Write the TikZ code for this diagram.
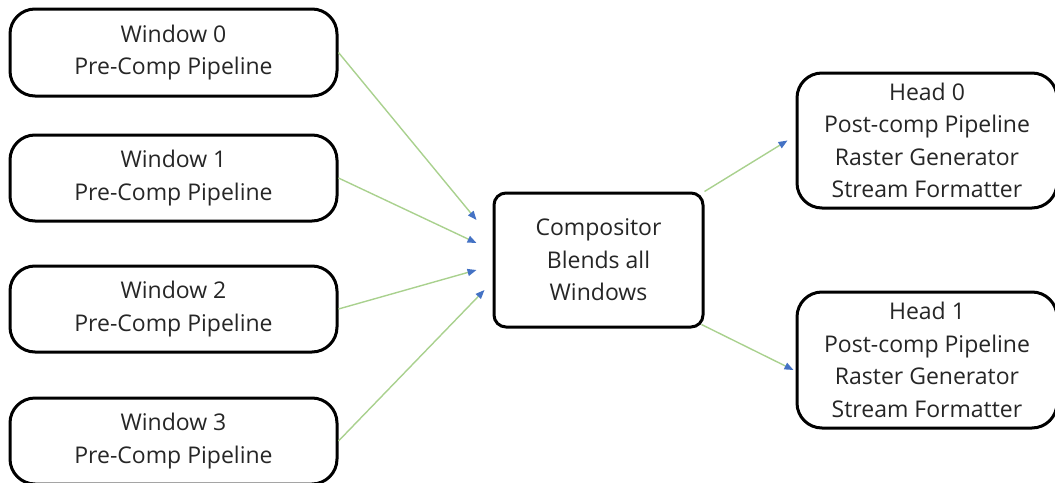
\documentclass[tikz,border=0pt]{standalone}
\usepackage{fontspec}
\setmainfont{Open Sans}
\usetikzlibrary{arrows.meta,calc}
\definecolor{flowgreen}{HTML}{A9D18E}
\definecolor{tipblue}{HTML}{4472C4}
\definecolor{textgray}{HTML}{262626}
\tikzset{
  stage/.style={draw=black, line width=3pt, fill=white, rounded corners=25pt,
    inner sep=0pt, align=center, text=textgray,
    font=\fontsize{23}{32.5}\selectfont},
  hub/.style={stage, rounded corners=12pt},
  flow/.style={draw=flowgreen, line width=1.4pt,
    -{Triangle[length=9pt,width=7pt,color=tipblue]}}
}
\begin{document}
\begin{tikzpicture}[x=1pt,y=-1pt]
\useasboundingbox (0,0) rectangle (1055,482);
\clip (0,0) rectangle (1055,482);
% source windows
\node[stage, minimum width=327pt, minimum height=87pt] (w0) at (173.5,52.5) {Window 0\\Pre-Comp Pipeline};
\node[stage, minimum width=327pt, minimum height=86pt] (w1) at (173.5,178) {Window 1\\Pre-Comp Pipeline};
\node[stage, minimum width=327pt, minimum height=86pt] (w2) at (173.5,309) {Window 2\\Pre-Comp Pipeline};
\node[stage, minimum width=327pt, minimum height=86pt] (w3) at (173.5,441) {Window 3\\Pre-Comp Pipeline};
% compositor
\node[hub, minimum width=209pt, minimum height=134pt] (comp) at (598.5,260) {Compositor\\Blends all\\Windows};
% output heads
\node[stage, minimum width=260pt, minimum height=135pt] (h0) at (927,140.5) {Head 0\\Post-comp Pipeline\\Raster Generator\\Stream Formatter};
\node[stage, minimum width=260pt, minimum height=136pt] (h1) at (927,360) {Head 1\\Post-comp Pipeline\\Raster Generator\\Stream Formatter};
% connectors
\draw[flow] (w0.east) -- ([xshift=-16pt,yshift=40pt]comp.west);
\draw[flow] (w1.east) -- ([xshift=-16pt,yshift=17pt]comp.west);
\draw[flow] (w2.east) -- ([xshift=-16pt,yshift=-10pt]comp.west);
\draw[flow] (w3.east) -- ([xshift=-8pt,yshift=-30pt]comp.west);
\draw[flow] (comp.north east) -- ([xshift=-8pt]h0.west);
\draw[flow] ([xshift=-3pt,yshift=4pt]comp.south east) -- ([xshift=-2pt,yshift=-10pt]h1.west);
\end{tikzpicture}
\end{document}
